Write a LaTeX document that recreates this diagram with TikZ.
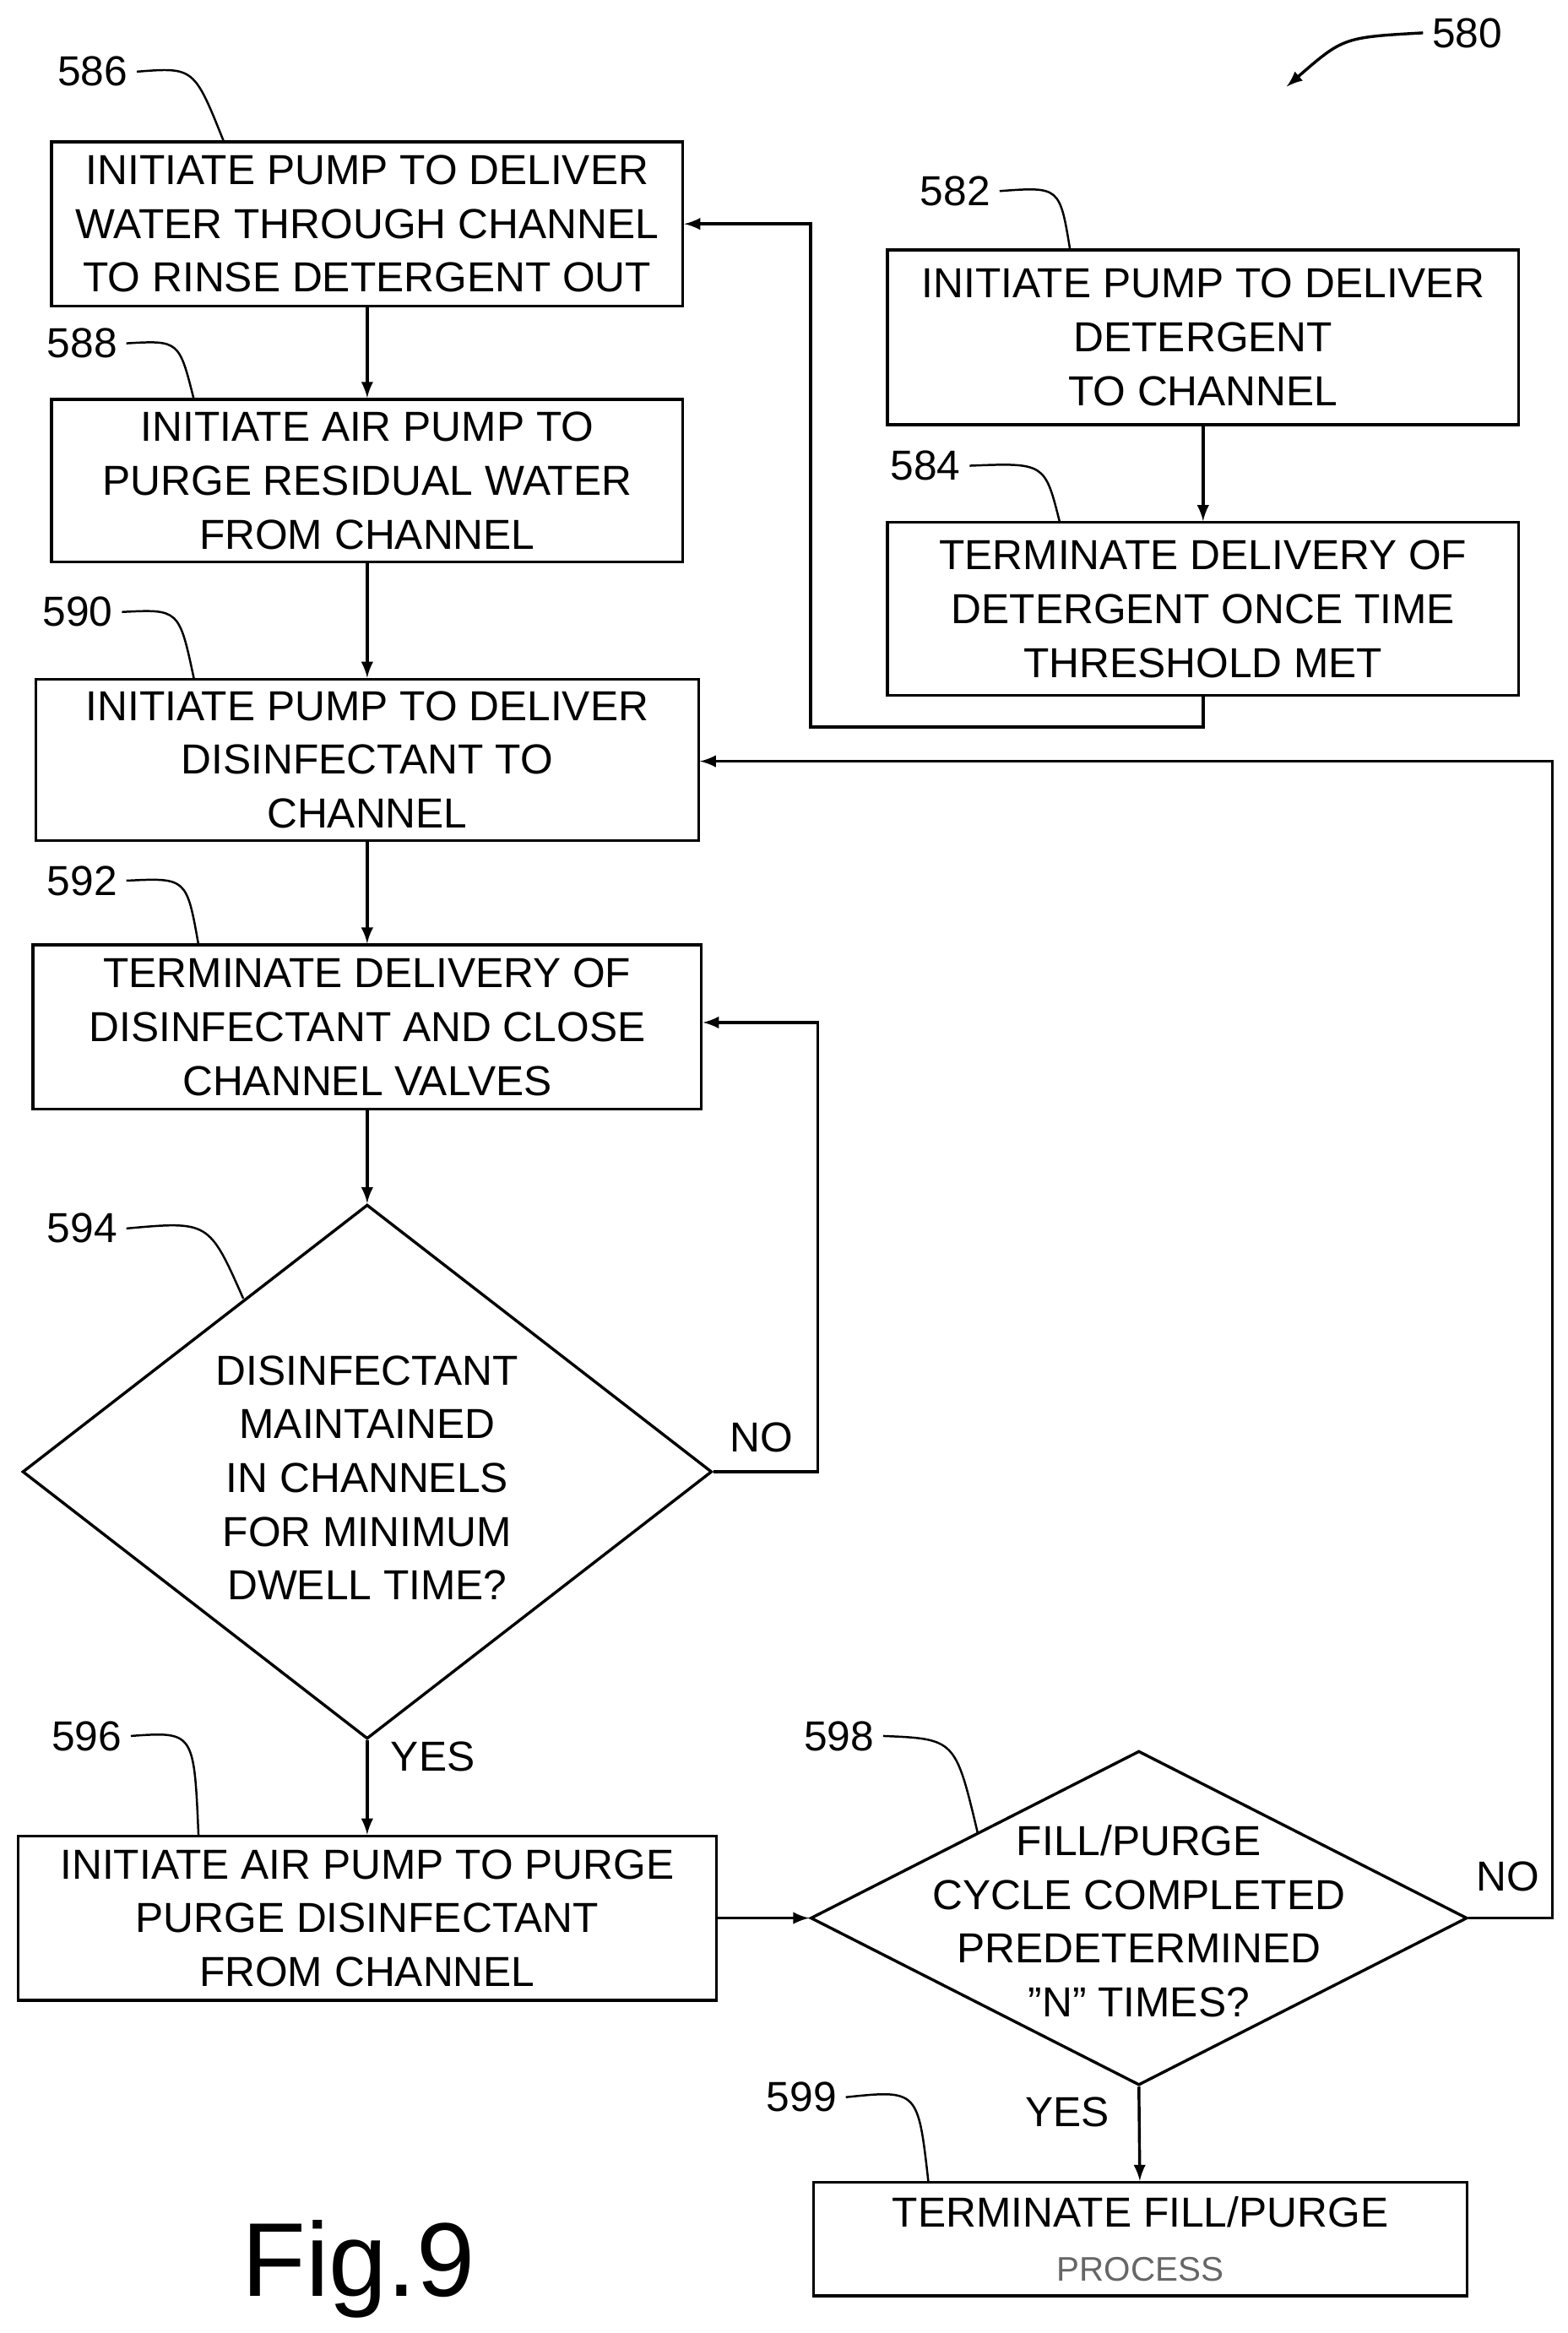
\documentclass[tikz,border=0pt]{standalone}
\usepackage{fontspec}
\setmainfont{Liberation Sans}
\usetikzlibrary{shapes.geometric}
\begin{document}
\begin{tikzpicture}[x=0.02cm, y=-0.02cm, font=\fontsize{16}{20.5}\selectfont]
    % Define styles
    \tikzstyle{stage} = [rectangle, draw=black, line width=1.1pt, align=center, inner sep=0pt]
    \tikzstyle{decide} = [diamond, draw=black, line width=1.1pt, inner sep=0pt]
    \tikzstyle{arrow} = [line width=1.1pt,->,>=latex]
    \tikzstyle{tag} = [line width=0.8pt]
    \useasboundingbox (0,0) rectangle (1050,1563);

    % Boxes
    \node [stage, minimum width=8.46cm, minimum height=2.2cm] (s586) at (246,150) {INITIATE PUMP TO DELIVER\\WATER THROUGH CHANNEL\\TO RINSE DETERGENT OUT};
    \node [stage, minimum width=8.46cm, minimum height=2.18cm] (s588) at (246,322) {INITIATE AIR PUMP TO\\PURGE RESIDUAL WATER\\FROM CHANNEL};
    \node [stage, minimum width=8.88cm, minimum height=2.16cm] (s590) at (246,509) {INITIATE PUMP TO DELIVER\\DISINFECTANT TO\\CHANNEL};
    \node [stage, minimum width=8.96cm, minimum height=2.2cm] (s592) at (246,688) {TERMINATE DELIVERY OF\\DISINFECTANT AND CLOSE\\CHANNEL VALVES};
    \node [decide, minimum width=9.24cm, minimum height=7.16cm] (d594) at (246,986) {};
    \node [align=center] (t594) at (246,990) {DISINFECTANT\\MAINTAINED\\IN CHANNELS\\FOR MINIMUM\\DWELL TIME?};
    \node [stage, minimum width=9.36cm, minimum height=2.2cm] (s596) at (246,1285) {INITIATE AIR PUMP TO PURGE\\PURGE DISINFECTANT\\FROM CHANNEL};
    \node [decide, minimum width=8.8cm, minimum height=4.48cm] (d598) at (763,1285) {};
    \node [align=center] (t598) at (763,1287) {FILL/PURGE\\CYCLE COMPLETED\\PREDETERMINED\\"N" TIMES?};
    \node [stage, minimum width=8.76cm, minimum height=1.52cm] (s599) at (764,1500) {TERMINATE FILL/PURGE\\{\color{black!60}\fontsize{13}{16}\selectfont PROCESS}};
    \node [stage, minimum width=8.46cm, minimum height=2.34cm] (s582) at (806,226) {INITIATE PUMP TO DELIVER\\DETERGENT\\TO CHANNEL};
    \node [stage, minimum width=8.46cm, minimum height=2.32cm] (s584) at (806,408) {TERMINATE DELIVERY OF\\DETERGENT ONCE TIME\\THRESHOLD MET};

    % Arrows
    \draw [arrow] (s582) -- (s584);
    \draw [arrow] (s584.south) |- (543,487) |- (s586.east);
    \draw [arrow] (s586) -- (s588);
    \draw [arrow] (s588) -- (s590);
    \draw [arrow] (s590) -- (s592);
    \draw [arrow] (s592) -- (d594.north);
    \draw [arrow] (d594.east) -| (548,685) -- (s592.east |- 0,685);
    \draw [arrow] (d594.south) -- (s596);
    \draw [arrow] (s596) -- (d598.west);
    \draw [arrow] (d598.east) -| (1040,510) -- (s590.east |- 0,510);
    \draw [arrow] (d598.south) -- (s599);

    % Branch labels
    \node (no594) at (510,963) {NO};
    \node (yes594) at (290,1177) {YES};
    \node (no598) at (1010,1257) {NO};
    \node (yes598) at (715,1415) {YES};

    % Reference numerals
    \node (n586) at (62,48) {586};
    \draw [tag] (n586.east) .. controls (130,45) .. (150,95);
    \node (n588) at (55,230) {588};
    \draw [tag] (n588.east) .. controls (120,228) .. (130,268);
    \node (n590) at (52,410) {590};
    \draw [tag] (n590.east) .. controls (120,408) .. (130,455);
    \node (n592) at (55,590) {592};
    \draw [tag] (n592.east) .. controls (125,588) .. (133,633);
    \node (n594) at (55,823) {594};
    \draw [tag] (n594.east) .. controls (140,818) .. (163,870);
    \node (n596) at (58,1163) {596};
    \draw [tag] (n596.east) .. controls (130,1160) .. (133,1230);
    \node (n598) at (562,1163) {598};
    \draw [tag] (n598.east) .. controls (640,1165) .. (655,1228);
    \node (n599) at (537,1405) {599};
    \draw [tag] (n599.east) .. controls (615,1400) .. (622,1462);
    \node (n582) at (640,128) {582};
    \draw [tag] (n582.east) .. controls (710,125) .. (717,168);
    \node (n584) at (620,312) {584};
    \draw [tag] (n584.east) .. controls (700,310) .. (710,350);
    \node (n580) at (983,22) {580};
    \draw [arrow] (n580.west) .. controls (900,25) .. (862,58);

    \node [font=\fontsize{40}{48}\selectfont] (fig) at (240,1520) {Fig.9};
\end{tikzpicture}
\end{document}
